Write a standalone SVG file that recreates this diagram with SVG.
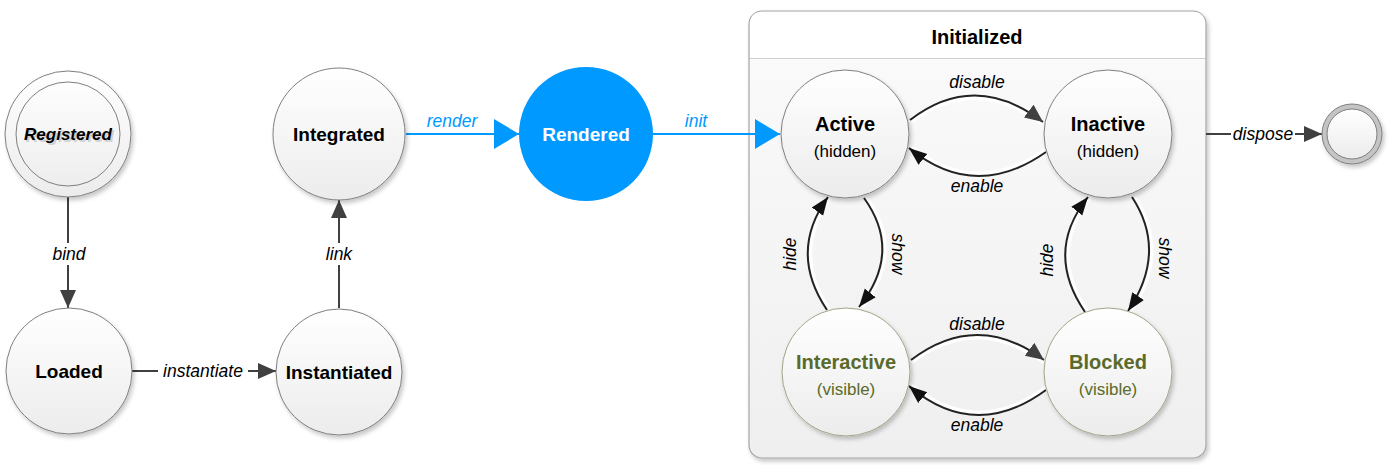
<svg xmlns="http://www.w3.org/2000/svg" width="1389" height="465" viewBox="0 0 1389 465">
<defs>
<linearGradient id="nodeGrad" x1="0" y1="0" x2="0" y2="1">
<stop offset="0" stop-color="#ffffff"/><stop offset="1" stop-color="#ececec"/>
</linearGradient>
<linearGradient id="boxGrad" x1="0" y1="0" x2="0" y2="1">
<stop offset="0" stop-color="#fbfbfb"/><stop offset="1" stop-color="#efefef"/>
</linearGradient>
<filter id="shadow" x="-20%" y="-20%" width="150%" height="150%">
<feDropShadow dx="2" dy="3" stdDeviation="2" flood-color="#000" flood-opacity="0.22"/>
</filter>
<marker id="arrowDark" markerUnits="userSpaceOnUse" markerWidth="20" markerHeight="16" refX="18" refY="8" orient="auto">
<path d="M0,0 L18,8 L0,16 Z" fill="#404040"/>
</marker>
<marker id="arrowBlack" markerUnits="userSpaceOnUse" markerWidth="20" markerHeight="16" refX="18" refY="8" orient="auto">
<path d="M0,1 L18,8 L0,15 Z" fill="#111"/>
</marker>
<marker id="arrowBlue" markerUnits="userSpaceOnUse" markerWidth="26" markerHeight="30" refX="25" refY="15" orient="auto">
<path d="M0,0 L25,15 L0,30 Z" fill="#0099ff"/>
</marker>
<style>
.node{fill:url(#nodeGrad);stroke:#7f7f7f;stroke-width:1;filter:url(#shadow)}
.onode{fill:url(#nodeGrad);stroke:#a3a38a;stroke-width:1;filter:url(#shadow)}
.name{font-family:"Liberation Sans",Arial,sans-serif;font-weight:bold;font-size:19px;fill:#000;text-anchor:middle}
.iname{font-family:"Liberation Sans",Arial,sans-serif;font-weight:bold;font-size:20px;fill:#000;text-anchor:middle}
.sub{font-family:"Liberation Sans",Arial,sans-serif;font-size:17px;fill:#000;text-anchor:middle}
.olive{fill:#5a6a2a}
.lbl{font-family:"Liberation Sans",Arial,sans-serif;font-style:italic;font-size:17.5px;fill:#000;text-anchor:middle}
.edge{fill:none;stroke:#404040;stroke-width:2}
.curve{fill:none;stroke:#222;stroke-width:2}
.halo{fill:none;stroke:#ffffff;stroke-width:5;opacity:0.9}
.blue{fill:none;stroke:#0099ff;stroke-width:2}
</style>
</defs>
<rect width="1389" height="465" fill="#ffffff"/>

<!-- container -->
<g id="Initialized">
<rect x="749" y="11" width="457" height="447" rx="13" ry="13" fill="url(#boxGrad)" stroke="#a6a6a6" stroke-width="1.2" filter="url(#shadow)"/>
<path d="M749.6 58 L1205.4 58" stroke="#a6a6a6" stroke-width="1.2"/>
<path d="M750 58 L1205 58 L1205 24 Q1205 12 1193 12 L762 12 Q750 12 750 24 Z" fill="#ffffff"/>
<text class="iname" x="977" y="44">Initialized</text>
</g>

<!-- connectors -->
<g id="connectors">
<line class="edge" x1="68" y1="197" x2="68" y2="308" marker-end="url(#arrowDark)"/>
<line class="edge" x1="339" y1="308" x2="339" y2="200" marker-end="url(#arrowDark)"/>
<line class="edge" x1="132" y1="371" x2="276" y2="371" marker-end="url(#arrowDark)"/>
<line class="blue" x1="406" y1="134" x2="519" y2="134" marker-end="url(#arrowBlue)"/>
<line class="blue" x1="653" y1="134" x2="780" y2="134" marker-end="url(#arrowBlue)"/>
<line class="edge" x1="1206" y1="134" x2="1322" y2="134" marker-end="url(#arrowDark)"/>

<path class="halo" d="M910 122 Q975 72 1043 124"/>
<path class="curve" d="M910 120 Q975 70 1043 122" stroke="#3a3a3a" marker-end="url(#arrowDark)"/>
<path class="halo" d="M1046 150 Q975 200 909 146"/>
<path class="curve" d="M1046 152 Q975 202 909 148" marker-end="url(#arrowBlack)"/>

<path class="halo" d="M866 198 Q905 252 861 307"/>
<path class="curve" d="M864 198 Q903 252 859 307" marker-end="url(#arrowBlack)"/>
<path class="halo" d="M829 310 Q790 252 830 197"/>
<path class="curve" d="M827 310 Q788 252 828 197" marker-end="url(#arrowBlack)"/>

<path class="halo" d="M1134 197 Q1170 252 1130 311"/>
<path class="curve" d="M1132 197 Q1168 252 1128 311" marker-end="url(#arrowBlack)"/>
<path class="halo" d="M1087 312 Q1046 252 1090 197"/>
<path class="curve" d="M1085 312 Q1044 252 1088 197" marker-end="url(#arrowBlack)"/>

<path class="halo" d="M911 362 Q977 312 1044 362"/>
<path class="curve" d="M911 360 Q977 310 1044 360" stroke="#3a3a3a" marker-end="url(#arrowDark)"/>
<path class="halo" d="M1046 388 Q975 440 909 384"/>
<path class="curve" d="M1046 390 Q975 442 909 386" marker-end="url(#arrowBlack)"/>

<rect x="48" y="243" width="42" height="22" fill="#fff"/>
<text class="lbl" x="69" y="260">bind</text>
<rect x="322" y="243" width="34" height="22" fill="#fff"/>
<text class="lbl" x="339" y="260">link</text>
<rect x="158" y="360" width="90" height="22" fill="#fff"/>
<text class="lbl" x="203" y="377">instantiate</text>
<text class="lbl" x="452" y="127" style="fill:#0099ff">render</text>
<text class="lbl" x="696" y="127" style="fill:#0099ff">init</text>
<rect x="1231" y="123" width="64" height="22" fill="#fff"/>
<text class="lbl" x="1263" y="140">dispose</text>
<text class="lbl" x="977" y="88">disable</text>
<text class="lbl" x="977" y="192">enable</text>
<text class="lbl olive" x="977" y="330">disable</text>
<text class="lbl olive" x="977" y="431">enable</text>
<text class="lbl olive" transform="translate(892,254) rotate(90)">show</text>
<text class="lbl olive" transform="translate(796,254) rotate(-90)">hide</text>
<text class="lbl olive" transform="translate(1159,258) rotate(90)">show</text>
<text class="lbl olive" transform="translate(1053,260) rotate(-90)">hide</text>
</g>

<!-- nodes -->
<g id="Registered">
<circle class="node" cx="68" cy="134" r="63"/>
<circle cx="68" cy="134" r="52" fill="none" stroke="#7f7f7f" stroke-width="1"/>
<text class="name" x="70" y="142" style="font-size:17px;font-style:italic;fill:#d0d0d0">Registered</text>
<text class="name" x="68" y="140" style="font-size:17px;font-style:italic">Registered</text>
</g>
<g id="Loaded">
<circle class="node" cx="69" cy="371" r="63"/>
<text class="name" x="69" y="378">Loaded</text>
</g>
<g id="Instantiated">
<circle class="node" cx="339" cy="372" r="63"/>
<text class="name" x="339" y="379">Instantiated</text>
</g>
<g id="Integrated">
<circle class="node" cx="339" cy="134" r="66"/>
<text class="name" x="339" y="141">Integrated</text>
</g>
<g id="Rendered">
<circle cx="586" cy="134" r="67" fill="#0099ff"/>
<text class="name" x="586" y="141" style="fill:#ffffff">Rendered</text>
</g>
<g id="Active">
<circle class="node" cx="845" cy="134" r="64"/>
<text class="iname" x="845" y="131">Active</text>
<text class="sub" x="845" y="157">(hidden)</text>
</g>
<g id="Inactive">
<circle class="node" cx="1108" cy="134" r="64"/>
<text class="iname" x="1108" y="131">Inactive</text>
<text class="sub" x="1108" y="157">(hidden)</text>
</g>
<g id="Interactive">
<circle class="onode" cx="846" cy="372" r="64"/>
<text class="iname olive" x="846" y="369">Interactive</text>
<text class="sub olive" x="846" y="395">(visible)</text>
</g>
<g id="Blocked">
<circle class="onode" cx="1108" cy="372" r="64"/>
<text class="iname olive" x="1108" y="369">Blocked</text>
<text class="sub olive" x="1108" y="395">(visible)</text>
</g>
<g id="Final">
<circle cx="1352" cy="134" r="30" fill="#c4c4c4" stroke="#7f7f7f" stroke-width="1" filter="url(#shadow)"/>
<circle cx="1352" cy="134" r="25" fill="url(#nodeGrad)" stroke="#7f7f7f" stroke-width="1"/>
</g>
</svg>
